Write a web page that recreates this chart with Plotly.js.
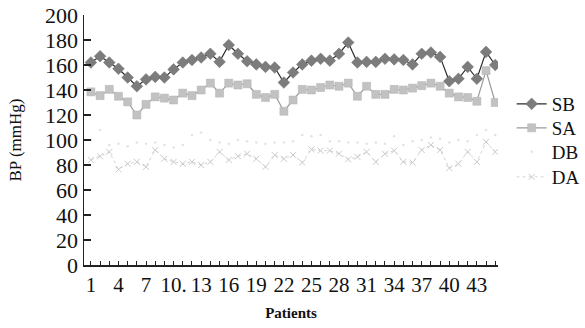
<!DOCTYPE html>
<html>
<head>
<meta charset="utf-8">
<script src="https://cdn.plot.ly/plotly-3.0.1.min.js"></script>
<style>html,body{margin:0;padding:0;background:#fff;}#chart{width:585px;height:328px;}</style>
</head>
<body>
<div id="chart"></div>
<script>
const patients = Array.from({length: 45}, (_, i) => i + 1);
const SB = [162,167,162,157,150,143,148.5,150.5,150,156.5,162,164,166,169,162.5,176,169,163,160.5,158.5,158,146,154,160.5,163.5,165,163.5,169,178,162,162.5,162.5,165,164.5,164,160.5,169,170,166.5,147,149,158.5,149,170.5,160];
const SA = [138.5,135.5,140.5,135,130.5,120,128.5,134.5,133.5,132,137.5,135.5,140,145.5,137.5,145.5,144,145,136.5,134,136.5,123,132,140.5,140,142,144,143,145.5,135,143,136.5,136.5,140.5,140,141.5,143.5,145.5,143,137.5,134.5,134,131,155.5,130];
const DB = [100,108,96,97,95,98,97,98,96,94,96,104,106,100,98,97,100,99,98,97,98,98,99,104,103,104,99,99,98,98,97,98,97,103,96,99,100,102,101,98,100,99,104,108,104];
const DA = [84,87,90.5,76.5,81,82.5,78.5,92,85,82.5,81,82.5,80,82.5,90.5,84,87,89,85,78.5,88,85,88,82,92.5,91.5,91.5,89,84.5,86.5,90.5,82.5,89,91.5,82.5,82,92,96,92,77.5,81,90.5,82.5,98.5,90.5];
const labelEvery = 3;
const xLabels = patients.map(p => ((p - 1) % labelEvery === 0) ? (p === 10 ? '10.' : String(p)) : '');
const yTicks = [0,20,40,60,80,100,120,140,160,180,200];

const times = 'Liberation Serif, DejaVu Serif, serif';
const traces = [
  {x: patients, y: SB, name: 'SB', mode: 'lines+markers', legend: 'legend',
   line: {color: '#2a2a2a', width: 1.2},
   marker: {symbol: 'diamond', size: 9, color: '#7c7c7c', line: {color: '#6a6a6a', width: 0.5}}},
  {x: patients, y: SA, name: 'SA', mode: 'lines+markers', legend: 'legend2',
   line: {color: '#9a9a9a', width: 1.2},
   marker: {symbol: 'square', size: 8, color: '#c2c2c2', line: {color: '#b0b0b0', width: 0.5}}},
  {x: patients, y: DB, name: 'DB', mode: 'markers', legend: 'legend3',
   marker: {symbol: 'circle', size: 2.5, color: '#e2e2e2'}},
  {x: patients, y: DA, name: 'DA', mode: 'lines+markers', legend: 'legend4',
   line: {color: '#d4d4d4', width: 1, dash: 'dot'},
   marker: {symbol: 'x-thin', size: 6, color: '#cacaca', line: {color: '#cacaca', width: 1}}}
];

function leg(y) {
  return {x: 1.033, y: y, xanchor: 'left', yanchor: 'middle', font: {family: times, size: 19, color: '#111'},
          bgcolor: 'rgba(0,0,0,0)', itemwidth: 30, borderwidth: 0};
}

const layout = {
  width: 585, height: 328,
  margin: {l: 84, r: 87, t: 15, b: 63, autoexpand: false},
  paper_bgcolor: '#fff', plot_bgcolor: '#fff',
  font: {family: times, color: '#111', size: 18},
  showlegend: true,
  legend: leg(0.644), legend2: leg(0.548), legend3: leg(0.452), legend4: leg(0.352),
  xaxis: {
    range: [0.25, 45.3], tickmode: 'array', tickvals: patients, ticktext: xLabels, tickangle: 0,
    ticks: 'inside', ticklen: 4, tickwidth: 1, tickcolor: '#222', automargin: false,
    showline: true, linecolor: '#222', linewidth: 1.5, showgrid: false, zeroline: false,
    tickfont: {family: times, size: 21, color: '#111'},
    title: {text: '<b>Patients</b>', font: {family: times, size: 15, color: '#111'}, standoff: 12}
  },
  yaxis: {
    range: [0, 200], tickmode: 'array', tickvals: yTicks,
    ticks: 'inside', ticklen: 7, tickwidth: 1.2, tickcolor: '#222',
    showline: true, linecolor: '#222', linewidth: 1.5, showgrid: false, zeroline: false,
    tickfont: {family: times, size: 22, color: '#111'},
    title: {text: 'BP (mmHg)', font: {family: times, size: 17, color: '#111'}, standoff: 19}
  }
};
Plotly.newPlot('chart', traces, layout, {staticPlot: true, displayModeBar: false});
</script>
</body>
</html>
